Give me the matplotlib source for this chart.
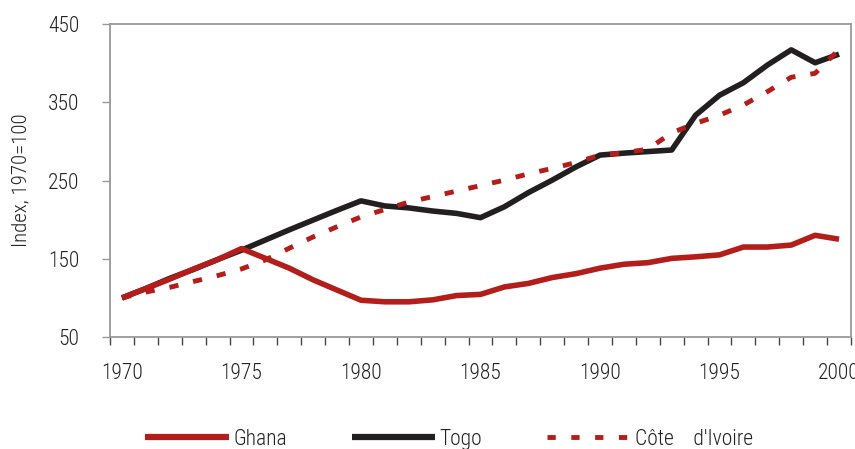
import matplotlib.pyplot as plt
from matplotlib.lines import Line2D
from matplotlib.ticker import FixedLocator

plt.rcParams['font.family'] = ['Roboto Condensed', 'DejaVu Sans']
plt.rcParams['font.weight'] = 300
plt.rcParams['axes.labelweight'] = 300

years = list(range(1970, 2001))

ghana = [100, 112, 124, 137, 149, 163, 150.5, 138, 123, 110, 97, 95, 95, 97.5, 103, 104.5,
         114, 118.5, 126, 131, 138, 143, 145, 150.5, 152.5, 155, 165, 165, 167.5, 180, 175]
togo = [100, 112, 125, 136.5, 149, 161, 174, 187, 199.5, 212, 224, 217.5, 215, 211, 208, 202.5,
        216.5, 234.5, 250.5, 267.5, 282.5, 285, 287, 289, 333.5, 359, 375, 397.5, 417, 400.5, 411.5]
cote = [100, 107.5, 113.5, 121, 128.5, 137, 148.5, 163.5, 178, 191, 203.5, 213, 222.5, 229.5, 236.5, 243.5,
        250.5, 258.5, 265.5, 273, 282.5, 285.5, 290, 311, 323, 333.5, 346.5, 363.5, 382, 387, 417.5]

red = '#b31d1a'
black = '#231f20'
grey = '#999999'
txt = '#222222'

fig = plt.figure(figsize=(8.55, 4.49), dpi=100)
ax = fig.add_axes([0.1287, 0.2494, 0.8666, 0.6971])

ax.plot(years, ghana, color=red, lw=4, solid_capstyle='butt', zorder=3)
ax.plot(years, togo, color=black, lw=4, solid_capstyle='butt', zorder=2)
ax.plot(years, cote, color=red, lw=3.5, dashes=(1.9, 3.1), dash_capstyle='butt', zorder=4)

ax.set_xlim(1969.5, 2000.5)
ax.set_ylim(50, 450)
ax.set_yticks([50, 150, 250, 350, 450])
ax.set_xticks(list(range(1970, 2001, 5)))
ax.xaxis.set_minor_locator(FixedLocator([y - 0.5 for y in range(1970, 2002)]))

ax.tick_params(axis='x', which='major', length=0, pad=19, labelsize=15.5, labelcolor=txt)
ax.tick_params(axis='x', which='minor', length=6, width=1, color='#444444', direction='out')
ax.tick_params(axis='y', length=6, width=1, color=grey, pad=16, labelsize=15.5, labelcolor=txt)

for s in ax.spines.values():
    s.set_color(grey)
    s.set_linewidth(1.3)

ax.set_ylabel('Index, 1970=100', fontsize=15, color=txt)
ax.yaxis.set_label_coords(-0.108, 0.5)

handles = [
    Line2D([], [], color=red, lw=4.5, solid_capstyle='butt'),
    Line2D([], [], color=black, lw=4.5, solid_capstyle='butt'),
    Line2D([], [], color=red, lw=3.5, dashes=(1.7, 3.2), dash_capstyle='butt'),
]
labels = ['Ghana', 'Togo', "Côte    d'Ivoire"]
fig.legend(handles, labels, loc='center left', bbox_to_anchor=(0.147, 0.022), ncol=3, frameon=False,
           fontsize=15.5, handlelength=3.9, handletextpad=0.2, columnspacing=3.0, labelcolor=txt)

fig.savefig('out.png', dpi=100)
